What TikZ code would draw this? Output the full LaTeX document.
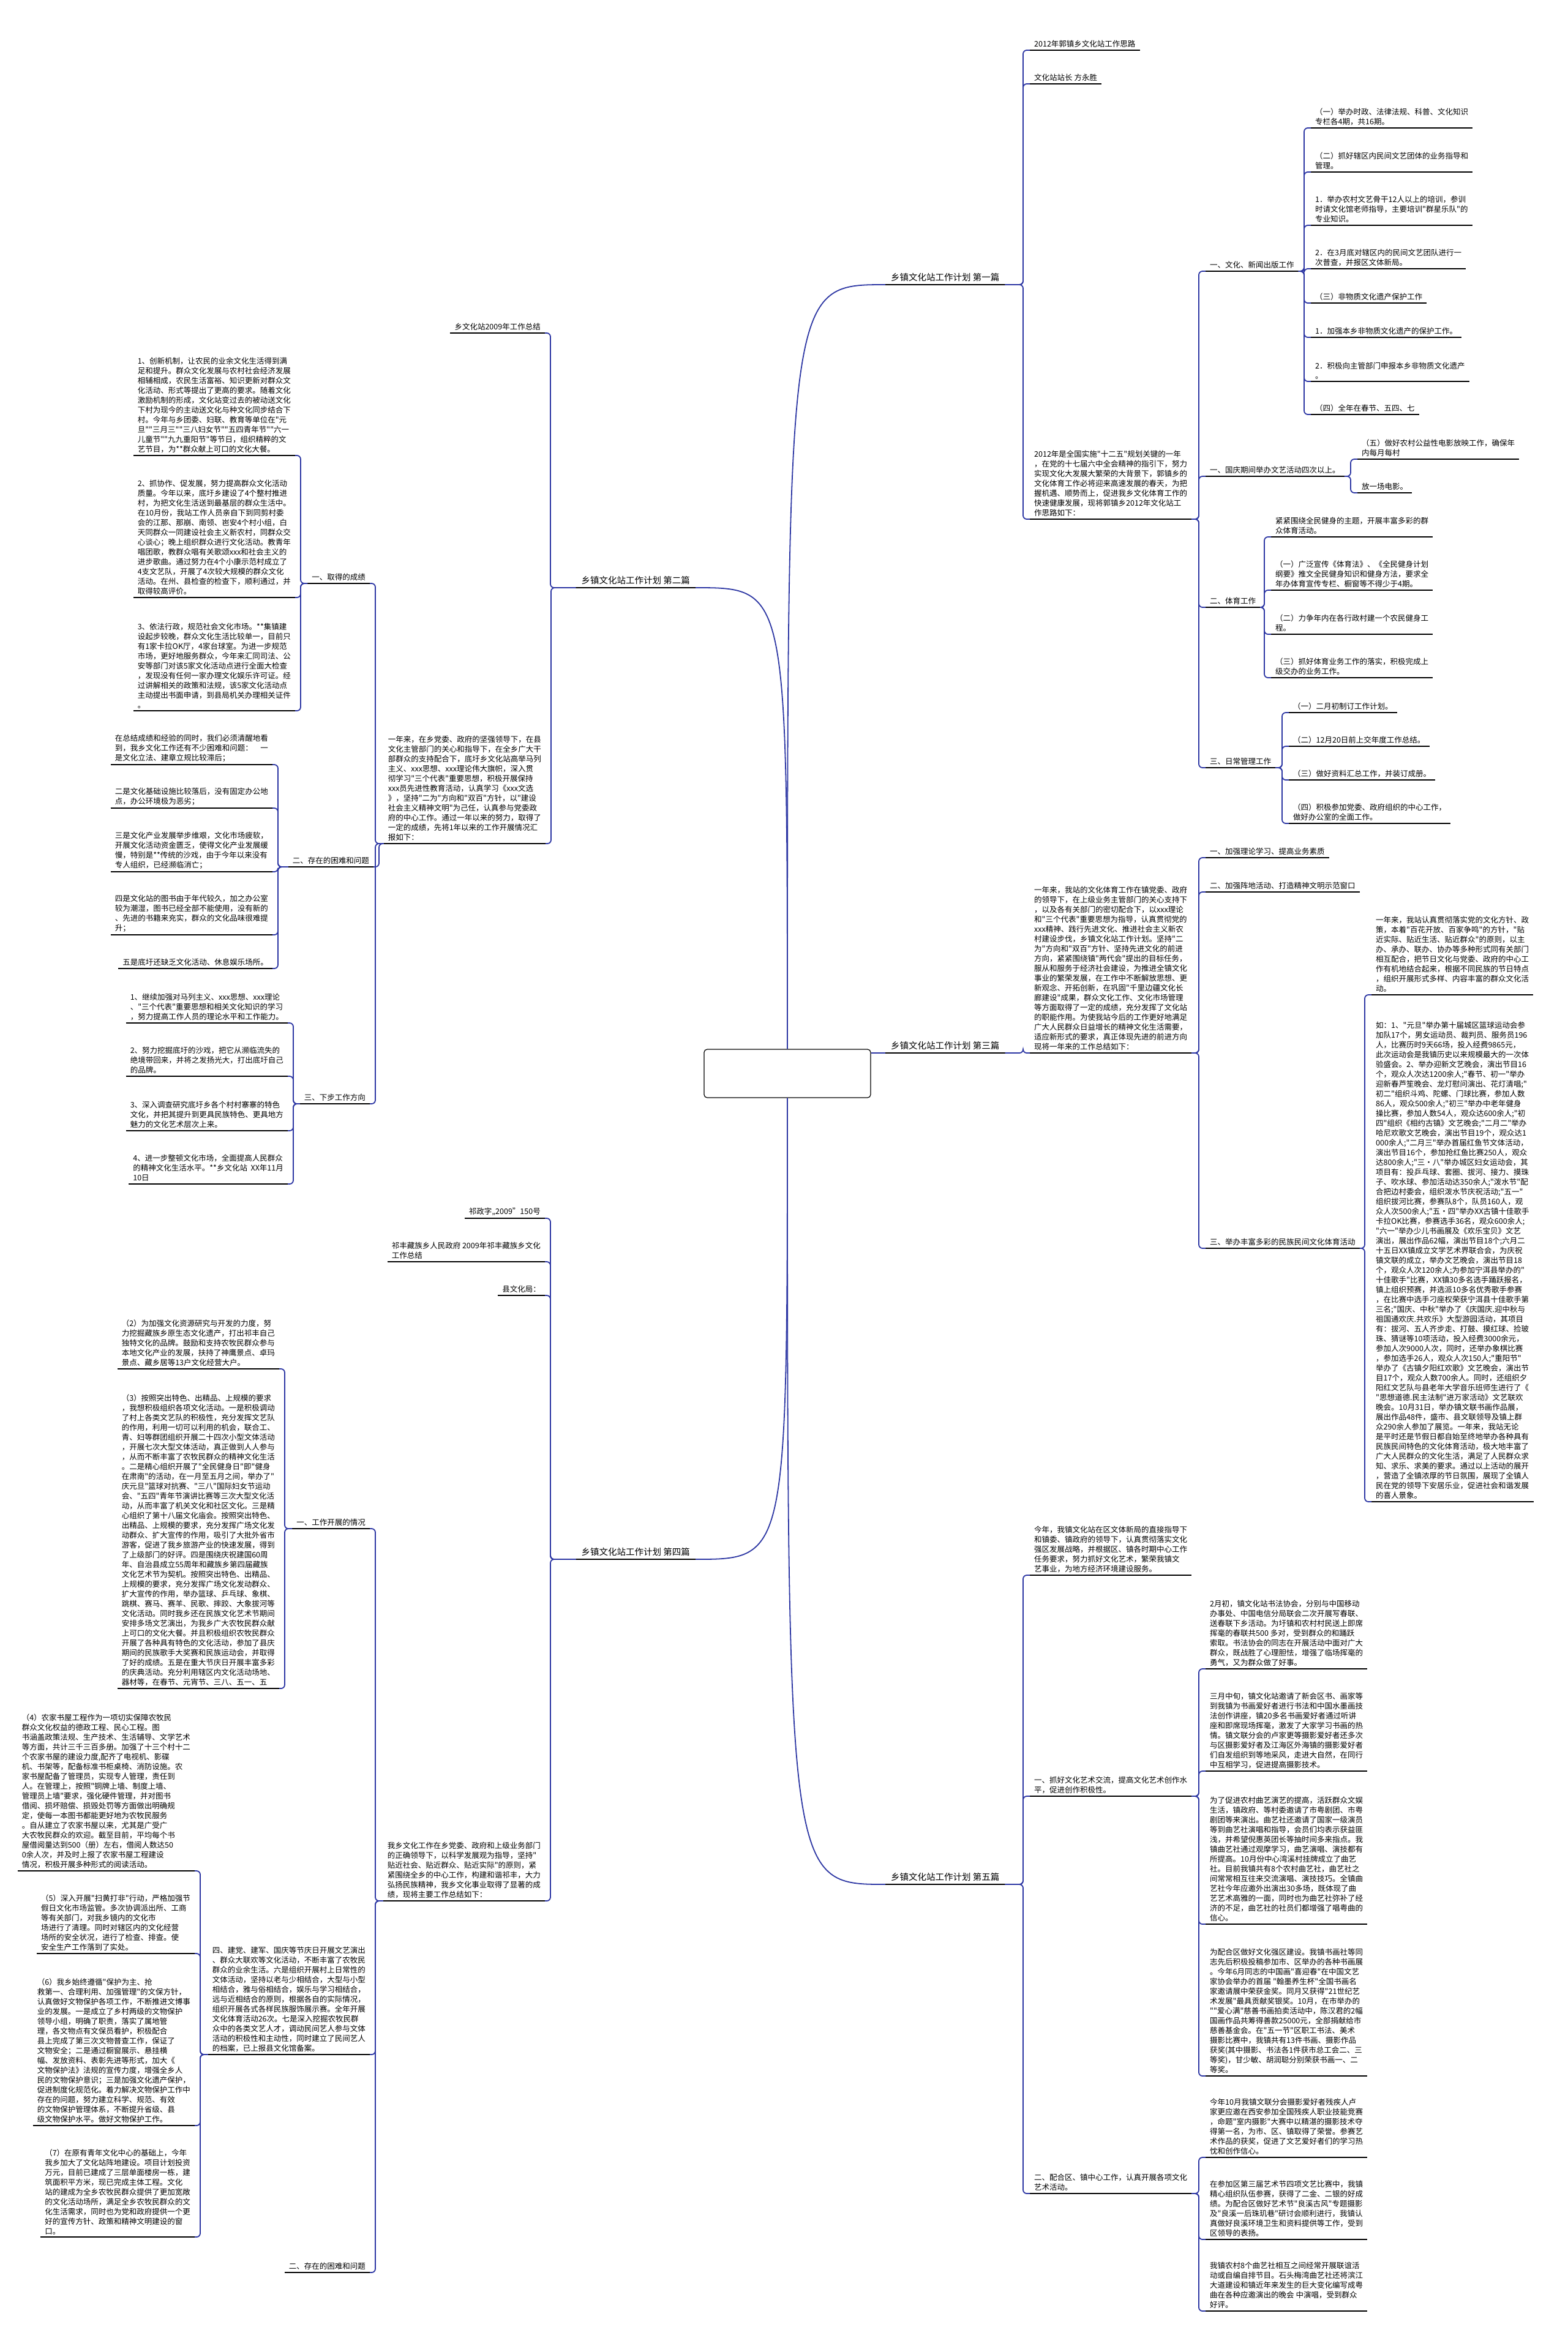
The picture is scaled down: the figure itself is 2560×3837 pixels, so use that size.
\documentclass[tikz,border=0pt]{standalone}
\usepackage{fontspec}
\newfontfamily\cjk{Noto Sans CJK SC}
\definecolor{linkblue}{RGB}{44,54,163}

\begin{document}
\begin{tikzpicture}[x=1pt, y=-1pt,
        topic/.style={font=\cjk\fontsize{12.5}{16}\selectfont, align=left, inner xsep=7pt, inner ysep=4pt,
            append after command={(\tikzlastnode.south west) edge[uline] (\tikzlastnode.south east)}},
        rtopic/.style={topic, anchor=south west},
        ltopic/.style={topic, anchor=south east},
        title/.style={topic, font=\cjk\fontsize{14.5}{18}\selectfont, inner xsep=9pt, inner ysep=5pt},
        uline/.style={draw=black, line width=2.2pt},
        link/.style={draw=linkblue, line width=1.8pt, rounded corners=6pt},
        rootbox/.style={draw, rounded corners=5pt, line width=1.2pt, fill=white, minimum width=272pt, minimum height=79pt},
    ]
        \fill[white] (0,0) rectangle (2560,3837);
        \useasboundingbox (0,0) rectangle (2560,3837);

        % centre
        \node[rootbox] (root) at (1286,1753.5) {};

        % chapter titles
        \node[title, anchor=south west] (p1) at (1446,465) {乡镇文化站工作计划 第一篇};
        \node[title, anchor=south east] (p2) at (1136,960) {乡镇文化站工作计划 第二篇};
        \node[title, anchor=south west] (p3) at (1446,1720) {乡镇文化站工作计划 第三篇};
        \node[title, anchor=south east] (p4) at (1136,2547) {乡镇文化站工作计划 第四篇};
        \node[title, anchor=south west] (p5) at (1446,3078) {乡镇文化站工作计划 第五篇};

        % first
        \node[rtopic] (a) at (1682,82) {2012年郭镇乡文化站工作思路};
        \node[rtopic] (b) at (1682,137) {文化站站长 方永胜};
        \node[rtopic] (c) at (1682,848) {2012年是全国实施"十二五"规划关键的一年\\，在党的十七届六中全会精神的指引下，努力\\实现文化大发展大繁荣的大背景下，郭镇乡的\\文化体育工作必将迎来高速发展的春天，为把\\握机遇、顺势而上，促进我乡文化体育工作的\\快速健康发展，现将郭镇乡2012年文化站工\\作思路如下：};
        \node[rtopic] (d) at (1969,443) {一、文化、新闻出版工作};
        \node[rtopic] (e) at (1969,778) {一、国庆期间举办文艺活动四次以上。};
        \node[rtopic] (f) at (1969,992) {二、体育工作};
        \node[rtopic] (g) at (1969,1254) {三、日常管理工作};
        \node[rtopic] (d1) at (2141,209) {（一）举办时政、法律法规、科普、文化知识\\专栏各4期，共16期。};
        \node[rtopic] (d2) at (2141,281) {（二）抓好辖区内民间文艺团体的业务指导和\\管理。};
        \node[rtopic] (d3) at (2141,368) {1．举办农村文艺骨干12人以上的培训，参训\\时请文化馆老师指导，主要培训"群星乐队"的\\专业知识。};
        \node[rtopic] (d4) at (2141,439) {2．在3月底对辖区内的民间文艺团队进行一\\次普查，并报区文体新局。};
        \node[rtopic] (d5) at (2141,495) {（三）非物质文化遗产保护工作};
        \node[rtopic] (d6) at (2141,551) {1．加强本乡非物质文化遗产的保护工作。};
        \node[rtopic] (d7) at (2141,623) {2．积极向主管部门申报本乡非物质文化遗产\\。};
        \node[rtopic] (d8) at (2141,677) {（四）全年在春节、五四、七};
        \node[rtopic] (e1) at (2217,750) {（五）做好农村公益性电影放映工作，确保年\\内每月每村};
        \node[rtopic] (e2) at (2217,805) {放一场电影。};
        \node[rtopic] (f1) at (2076,877) {紧紧围绕全民健身的主题，开展丰富多彩的群\\众体育活动。};
        \node[rtopic] (f2) at (2076,964) {（一）广泛宣传《体育法》、《全民健身计划\\纲要》推文全民健身知识和健身方法，要求全\\年办体育宣传专栏、橱窗等不得少于4期。};
        \node[rtopic] (f3) at (2076,1036) {（二）力争年内在各行政村建一个农民健身工\\程。};
        \node[rtopic] (f4) at (2076,1107) {（三）抓好体育业务工作的落实，积极完成上\\级交办的业务工作。};
        \node[rtopic] (g1) at (2105,1164) {（一）二月初制订工作计划。};
        \node[rtopic] (g2) at (2105,1219) {（二）12月20日前上交年度工作总结。};
        \node[rtopic] (g3) at (2105,1274) {（三）做好资料汇总工作，并装订成册。};
        \node[rtopic] (g4) at (2105,1345) {（四）积极参加党委、政府组织的中心工作，\\做好办公室的全面工作。};

        % third
        \node[rtopic] (t3) at (1682,1720) {一年来，我站的文化体育工作在镇党委、政府\\的领导下，在上级业务主管部门的关心支持下\\，以及各有关部门的密切配合下，以xxx理论\\和"三个代表"重要思想为指导，认真贯彻党的\\xxx精神、践行先进文化、推进社会主义新农\\村建设步伐，乡镇文化站工作计划。坚持"二\\为"方向和"双百"方针、坚持先进文化的前进\\方向，紧紧围绕镇"两代会"提出的目标任务，\\服从和服务于经济社会建设，为推进全镇文化\\事业的繁荣发展，在工作中不断解放思想、更\\新观念、开拓创新，在巩固"千里边疆文化长\\廊建设"成果，群众文化工作、文化市场管理\\等方面取得了一定的成绩，充分发挥了文化站\\的职能作用。为使我站今后的工作更好地满足\\广大人民群众日益增长的精神文化生活需要，\\适应新形式的要求，真正体现先进的前进方向\\现将一年来的工作总结如下：};
        \node[rtopic] (h1) at (1969,1401) {一、加强理论学习、提高业务素质};
        \node[rtopic] (h2) at (1969,1457) {二、加强阵地活动、打造精神文明示范窗口};
        \node[rtopic] (h3) at (1969,2039) {三、举办丰富多彩的民族民间文化体育活动};
        \node[rtopic] (h3a) at (2240,1625) {一年来，我站认真贯彻落实党的文化方针、政\\策，本着"百花开放、百家争鸣"的方针，"贴\\近实际、贴近生活、贴近群众"的原则，以主\\办、承办、联办、协办等多种形式同有关部门\\相互配合，把节日文化与党委、政府的中心工\\作有机地结合起来，根据不同民族的节日特点\\，组织开展形式多样、内容丰富的群众文化活\\动。};
        \node[rtopic] (h3b) at (2240,2453) {如：1、"元旦"举办第十届城区篮球运动会参\\加队17个，男女运动员、裁判员、服务员196\\人，比赛历时9天66场，投入经费9865元，\\此次运动会是我镇历史以来规模最大的一次体\\验盛会。2、举办迎新文艺晚会，演出节目16\\个，观众人次达1200余人;"春节、初一"举办\\迎新春芦笙晚会、龙灯慰问演出、花灯清唱;"\\初二"组织斗鸡、陀螺、门球比赛，参加人数\\86人，观众500余人;"初三"举办中老年健身\\操比赛，参加人数54人，观众达600余人;"初\\四"组织《相约古镇》文艺晚会;"二月二"举办\\哈尼欢歌文艺晚会，演出节目19个，观众达1\\000余人;"二月三"举办首届红鱼节文体活动，\\演出节目16个，参加抢红鱼比赛250人，观众\\达800余人;"三·八"举办城区妇女运动会，其\\项目有：投乒乓球、套圈、拔河、接力、摸珠\\子、吹水球、参加活动达350余人;"泼水节"配\\合把边村委会，组织泼水节庆祝活动;"五一"\\组织拔河比赛，参赛队8个，队员160人，观\\众人次500余人;"五·四"举办XX古镇十佳歌手\\卡拉OK比赛，参赛选手36名，观众600余人;\\"六一"举办少儿书画展及《欢乐宝贝》文艺\\演出，展出作品62幅，演出节目18个;六月二\\十五日XX镇成立文学艺术界联合会，为庆祝\\镇文联的成立，举办文艺晚会，演出节目18\\个，观众人次120余人;为参加宁洱县举办的"\\十佳歌手"比赛，XX镇30多名选手踊跃报名，\\镇上组织预赛，并选派10多名优秀歌手参赛\\，在比赛中选手刁座权荣获宁洱县十佳歌手第\\三名;"国庆、中秋"举办了《庆国庆.迎中秋与\\祖国通欢庆.共欢乐》大型游园活动，其项目\\有：拔河、五人齐步走、打鼓、摸红球、捡玻\\珠、猜谜等10项活动，投入经费3000余元，\\参加人次9000人次，同时，还举办象棋比赛\\，参加选手26人，观众人次150人;"重阳节"\\举办了《古镇夕阳红欢歌》文艺晚会，演出节\\目17个，观众人数700余人。同时，还组织夕\\阳红文艺队与县老年大学音乐班师生进行了《\\"思想道德.民主法制"进万家活动》文艺联欢\\晚会。10月31日，举办镇文联书画作品展，\\展出作品48件，盛市、县文联领导及镇上群\\众290余人参加了展览。一年来，我站无论\\是平时还是节假日都自始至终地举办各种具有\\民族民间特色的文化体育活动，极大地丰富了\\广大人民群众的文化生活，满足了人民群众求\\知、求乐、求美的要求。通过以上活动的展开\\，营造了全镇浓厚的节日氛围，展现了全镇人\\民在党的领导下安居乐业，促进社会和谐发展\\的喜人景象。};

        % fifth
        \node[rtopic] (i1) at (1682,2573) {今年，我镇文化站在区文体新局的直接指导下\\和镇委、镇政府的领导下，认真贯彻落实文化\\强区发展战略，并根据区、镇各时期中心工作\\任务要求，努力抓好文化艺术，繁荣我镇文\\艺事业，为地方经济环境建设服务。};
        \node[rtopic] (i2) at (1682,2934) {一、抓好文化艺术交流，提高文化艺术创作水\\平，促进创作积极性。};
        \node[rtopic] (i3) at (1682,3583) {二、配合区、镇中心工作，认真开展各项文化\\艺术活动。};
        \node[rtopic] (i2a) at (1969,2726) {2月初，镇文化站书法协会，分别与中国移动\\办事处、中国电信分局联会二次开展写春联、\\送春联下乡活动。为圩镇和农村村民送上即席\\挥毫的春联共500 多对，受到群众的和踊跃\\索取。书法协会的同志在开展活动中面对广大\\群众，既战胜了心理胆怯，增强了临场挥毫的\\勇气，又为群众做了好事。};
        \node[rtopic] (i2b) at (1969,2893) {三月中旬，镇文化站邀请了新会区书、画家等\\到我镇为书画爱好者进行书法和中国水墨画技\\法创作讲座，镇20多名书画爱好者通过听讲\\座和即席现场挥毫，激发了大家学习书画的热\\情。镇文联分会的卢家更等摄影爱好者还多次\\与区摄影爱好者及江海区外海镇的摄影爱好者\\们自发组织到等地采风，走进大自然，在同行\\中互相学习，促进提高摄影技术。};
        \node[rtopic] (i2c) at (1969,3143) {为了促进农村曲艺演艺的提高，活跃群众文娱\\生活，镇政府、等村委邀请了市粤剧团、市粤\\剧团等来演出。曲艺社还邀请了国家一级演员\\等到曲艺社演唱和指导，会员们均表示获益匪\\浅，并希望倪惠英团长等抽时间多来指点。我\\镇曲艺社通过观摩学习，曲艺演唱、演技都有\\所提高。10月份中心湾溪村挂牌成立了曲艺\\社。目前我镇共有8个农村曲艺社，曲艺社之\\间常常相互往来交流演唱、演技技巧。全镇曲\\艺社今年应邀外出演出30多场，既体现了曲\\艺艺术高雅的一面，同时也为曲艺社弥补了经\\济的不足，曲艺社的社员们都增强了唱粤曲的\\信心。};
        \node[rtopic] (i2d) at (1969,3391) {为配合区做好文化强区建设。我镇书画社等同\\志先后积极投稿参加市、区举办的各种书画展\\。今年6月同志的中国画"喜迎春"在中国文艺\\家协会举办的首届 "翰墨养生杯"全国书画名\\家邀请展中荣获金奖。同月又获得"21世纪艺\\术发展"最具贡献奖银奖。10月，在市举办的\\""爱心满"慈善书画拍卖活动中，陈汉君的2幅\\国画作品共筹得善款25000元，全部捐献给市\\慈善基金会。在"五一节"区职工书法、美术\\摄影比赛中，我镇共有13件书画、摄影作品\\获奖(其中摄影、书法各1件获市总工会二、三\\等奖)，甘少敏、胡润聪分别荣获书画一、二\\等奖。};
        \node[rtopic] (i3a) at (1969,3524) {今年10月我镇文联分会摄影爱好者残疾人卢\\家更应邀在西安参加全国残疾人职业技能竞赛\\，命题"室内摄影"大赛中以精湛的摄影技术夺\\得第一名，为市、区、镇取得了荣誉。参赛艺\\术作品的获奖，促进了文艺爱好者们的学习热\\忱和创作信心。};
        \node[rtopic] (i3b) at (1969,3658) {在参加区第三届艺术节四项文艺比赛中，我镇\\精心组织队伍参赛，获得了二金、二银的好成\\绩。为配合区做好艺术节"良溪古风"专题摄影\\及"良溪一后珠玑巷"研讨会顺利进行，我镇认\\真做好良溪环境卫生和资料提供等工作，受到\\区领导的表扬。};
        \node[rtopic] (i3c) at (1969,3775) {我镇农村8个曲艺社相互之间经常开展联谊活\\动或自编自排节目。石头梅湾曲艺社还将滨江\\大道建设和镇近年来发生的巨大变化编写成粤\\曲在各种应邀演出的晚会 中演唱，受到群众\\好评。};

        % second
        \node[ltopic] (j1) at (890,544) {乡文化站2009年工作总结};
        \node[ltopic] (j2) at (891,1378) {一年来，在乡党委、政府的坚强领导下，在县\\文化主管部门的关心和指导下，在全乡广大干\\部群众的支持配合下，底圩乡文化站高举马列\\主义、xxx思想、xxx理论伟大旗帜，深入贯\\彻学习"三个代表"重要思想，积极开展保持\\xxx员先进性教育活动，认真学习《xxx文选\\》，坚持"二为"方向和"双百"方针，以"建设\\社会主义精神文明"为己任，认真参与党委政\\府的中心工作。通过一年以来的努力，取得了\\一定的成绩，先将1年以来的工作开展情况汇\\报如下：};
        \node[ltopic] (k1) at (604,953) {一、取得的成绩};
        \node[ltopic] (k2) at (610,1416) {二、存在的困难和问题};
        \node[ltopic] (k3) at (604,1803) {三、下步工作方向};
        \node[ltopic] (k1a) at (482,744) {1、创新机制，让农民的业余文化生活得到满\\足和提升。群众文化发展与农村社会经济发展\\相辅相成，农民生活富裕、知识更新对群众文\\化活动、形式等提出了更高的要求。随着文化\\激励机制的形成，文化站变过去的被动送文化\\下村为现今的主动送文化与种文化同步结合下\\村。今年与乡团委、妇联、教育等单位在"元\\旦""三月三""三八妇女节""五四青年节""六一\\儿童节""九九重阳节"等节日，组织精粹的文\\艺节目，为**群众献上可口的文化大餐。};
        \node[ltopic] (k1b) at (482,976) {2、抓协作、促发展，努力提高群众文化活动\\质量。今年以来，底圩乡建设了4个整村推进\\村，为把文化生活送到最基层的群众生活中。\\在10月份，我站工作人员亲自下到同剪村委\\会的江那、那崩、南领、岜安4个村小组，白\\天同群众一同建设社会主义新农村，同群众交\\心谈心；晚上组织群众进行文化活动。教青年\\唱团歌，教群众唱有关歌颂xxx和社会主义的\\进步歌曲。通过努力在4个小康示范村成立了\\4支文艺队，开展了4次较大规模的群众文化\\活动。在州、县检查的检查下，顺利通过，并\\取得较高评价。};
        \node[ltopic] (k1c) at (482,1161) {3、依法行政，规范社会文化市场。**集镇建\\设起步较晚，群众文化生活比较单一，目前只\\有1家卡拉OK厅，4家台球室。为进一步规范\\市场，更好地服务群众，今年来汇同司法、公\\安等部门对该5家文化活动点进行全面大检查\\，发现没有任何一家办理文化娱乐许可证。经\\过讲解相关的政策和法规，该5家文化活动点\\主动提出书面申请，到县局机关办理相关证件\\。};
        \node[ltopic] (k2a) at (445,1249) {在总结成绩和经验的同时，我们必须清醒地看\\到，我乡文化工作还有不少困难和问题：\quad 一\\是文化立法、建章立规比较滞后；};
        \node[ltopic] (k2b) at (445,1320) {二是文化基础设施比较落后，没有固定办公地\\点，办公环境极为恶劣；};
        \node[ltopic] (k2c) at (445,1424) {三是文化产业发展举步维艰，文化市场疲软，\\开展文化活动资金匮乏，使得文化产业发展缓\\慢，特别是**传统的沙戏，由于今年以来没有\\专人组织，已经濒临消亡；};
        \node[ltopic] (k2d) at (445,1527) {四是文化站的图书由于年代较久，加之办公室\\较为潮湿，图书已经全部不能使用，没有新的\\、先进的书籍来充实，群众的文化品味很难提\\升；};
        \node[ltopic] (k2e) at (445,1582) {五是底圩还缺乏文化活动、休息娱乐场所。};
        \node[ltopic] (k3a) at (470,1671) {1、继续加强对马列主义、xxx思想、xxx理论\\、"三个代表"重要思想和相关文化知识的学习\\，努力提高工作人员的理论水平和工作能力。};
        \node[ltopic] (k3b) at (470,1758) {2、努力挖掘底圩的沙戏，把它从濒临流失的\\绝境带回来，并将之发扬光大，打出底圩自己\\的品牌。};
        \node[ltopic] (k3c) at (470,1847) {3、深入调查研究底圩乡各个村村寨寨的特色\\文化，并把其提升到更具民族特色、更具地方\\魅力的文化艺术层次上来。};
        \node[ltopic] (k3d) at (470,1934) {4、进一步整顿文化市场，全面提高人民群众\\的精神文化生活水平。**乡文化站\ \ XX年11月\\10日};

        % fourth
        \node[ltopic] (l1) at (890,1990) {祁政字„2009”150号};
        \node[ltopic] (l2) at (890,2061) {祁丰藏族乡人民政府 2009年祁丰藏族乡文化\\工作总结};
        \node[ltopic] (l3) at (890,2116) {县文化局：};
        \node[ltopic] (l5) at (890,3105) {我乡文化工作在乡党委、政府和上级业务部门\\的正确领导下，以科学发展观为指导，坚持"\\贴近社会、贴近群众、贴近实际"的原则，紧\\紧围绕全乡的中心工作，构建和谐祁丰，大力\\弘扬民族精神，我乡文化事业取得了显著的成\\绩，现将主要工作总结如下：};
        \node[ltopic] (l4) at (604,2497) {一、工作开展的情况};
        \node[ltopic] (l6) at (604,3712) {二、存在的困难和问题};
        \node[ltopic] (l4a) at (456,2236) {（2）为加强文化资源研究与开发的力度，努\\力挖掘藏族乡原生态文化遗产，打出祁丰自己\\独特文化的品牌。鼓励和支持农牧民群众参与\\本地文化产业的发展，扶持了神鹰景点、卓玛\\景点、藏乡居等13户文化经营大户。};
        \node[ltopic] (l4b) at (456,2758) {（3）按照突出特色、出精品、上规模的要求\\，我想积极组织各项文化活动。一是积极调动\\了村上各类文艺队的积极性，充分发挥文艺队\\的作用，利用一切可以利用的机会，联合工、\\青、妇等群团组织开展二十四次小型文体活动\\，开展七次大型文体活动，真正做到人人参与\\，从而不断丰富了农牧民群众的精神文化生活\\。二是精心组织开展了"全民健身日"即"健身\\在肃南"的活动，在一月至五月之间，举办了"\\庆元旦"篮球对抗赛、"三八"国际妇女节运动\\会、"五四"青年节演讲比赛等三次大型文化活\\动，从而丰富了机关文化和社区文化。三是精\\心组织了第十八届文化庙会。按照突出特色、\\出精品、上规模的要求，充分发挥广场文化发\\动群众、扩大宣传的作用，吸引了大批外省市\\游客，促进了我乡旅游产业的快速发展，得到\\了上级部门的好评。四是围绕庆祝建国60周\\年、自治县成立55周年和藏族乡第四届藏族\\文化艺术节为契机。按照突出特色、出精品、\\上规模的要求，充分发挥广场文化发动群众、\\扩大宣传的作用，举办篮球、乒乓球、象棋、\\跳棋、赛马、赛羊、民歌、摔跤、大象拔河等\\文化活动。同时我乡还在民族文化艺术节期间\\安排多场文艺演出，为我乡广大农牧民群众献\\上可口的文化大餐。并且积极组织农牧民群众\\开展了各种具有特色的文化活动，参加了县庆\\期间的民族歌手大奖赛和民族运动会，并取得\\了好的成绩。五是在重大节庆日开展丰富多彩\\的庆典活动。充分利用辖区内文化活动场地、\\器材等，在春节、元宵节、三八、五一、五};
        \node[ltopic] (l4c) at (604,3356) {四、建党、建军、国庆等节庆日开展文艺演出\\、群众大联欢等文化活动，不断丰富了农牧民\\群众的业余生活。六是组织开展村上日常性的\\文体活动，坚持以老与少相结合，大型与小型\\相结合，雅与俗相结合，娱乐与学习相结合，\\远与近相结合的原则，根据各自的实际情况，\\组织开展各式各样民族服饰展示赛。全年开展\\文化体育活动26次。七是深入挖掘农牧民群\\众中的各类文艺人才，调动民间艺人参与文体\\活动的积极性和主动性，同时建立了民间艺人\\的档案，已上报县文化馆备案。};
        \node[ltopic] (m4) at (318,3056) {（4）农家书屋工程作为一项切实保障农牧民\\群众文化权益的德政工程、民心工程。图\\书涵盖政策法规、生产技术、生活辅导、文学艺术\\等方面，共计三千三百多册。加强了十三个村十二\\个农家书屋的建设力度,配齐了电视机、影碟\\机、书架等，配备标准书柜桌椅、消防设施。农\\家书屋配备了管理员，实现专人管理，责任到\\人。在管理上，按照"铜牌上墙、制度上墙、\\管理员上墙"要求，强化硬件管理，并对图书\\借阅、损坏赔偿、损毁处罚等方面做出明确规\\定，使每一本图书都能更好地为农牧民服务\\。自从建立了农家书屋以来，尤其是广受广\\大农牧民群众的欢迎。截至目前，平均每个书\\屋借阅量达到500（册）左右，借阅人数达50\\0余人次，并及时上报了农家书屋工程建设\\情况，积极开展多种形式的阅读活动。};
        \node[ltopic] (m5) at (318,3191) {（5）深入开展"扫黄打非"行动，严格加强节\\假日文化市场监管。多次协调派出所、工商\\等有关部门，对我乡镜内的文化市\\场进行了清理。同时对辖区内的文化经营\\场所的安全状况，进行了检查、排查。使\\安全生产工作落到了实处。};
        \node[ltopic] (m6) at (318,3472) {（6）我乡始终遵循"保护为主、抢\\救第一、合理利用、加强管理"的文保方针，\\认真做好文物保护各项工作，不断推进文博事\\业的发展。一是成立了乡村两级的文物保护\\领导小组，明确了职责，落实了属地管\\理，各文物点有文保员看护，积极配合\\县上完成了第三次文物普查工作，保证了\\文物安全；二是通过橱窗展示、悬挂横\\幅、发放资料、表彰先进等形式，加大《\\文物保护法》法规的宣传力度，增强全乡人\\民的文物保护意识；三是加强文化遗产保护，\\促进制度化规范化。着力解决文物保护工作中\\存在的问题，努力建立科学、规范、有效\\的文物保护管理体系，不断提升省级、县\\级文物保护水平。做好文物保护工作。};
        \node[ltopic] (m7) at (318,3654) {（7）在原有青年文化中心的基础上，今年\\我乡加大了文化站阵地建设。项目计划投资\\万元，目前已建成了三层单面楼房一栋，建\\筑面积平方米，现已完成主体工程。文化\\站的建成为全乡农牧民群众提供了更加宽敞\\的文化活动场所，满足全乡农牧民群众的文\\化生活需求，同时也为党和政府提供一个更\\好的宣传方针、政策和精神文明建设的窗\\口。};

        % connectors from the centre
        \draw[link] (root.north) .. controls (root.north |- p1.south west) .. (p1.south west);
        \draw[link] (root.north) .. controls (root.north |- p2.south east) .. (p2.south east);
        \draw[link] (root.east |- p3.south west) -- (p3.south west);
        \draw[link] (root.south) .. controls (root.south |- p4.south east) .. (p4.south east);
        \draw[link] (root.south) .. controls (root.south |- p5.south west) .. (p5.south west);

        % right side branches
        \foreach \p/\c in {p1/a, p1/b, p1/c, c/d, c/e, c/f, c/g,
                d/d1, d/d2, d/d3, d/d4, d/d5, d/d6, d/d7, d/d8, e/e1, e/e2,
                f/f1, f/f2, f/f3, f/f4, g/g1, g/g2, g/g3, g/g4,
                p3/t3, t3/h1, t3/h2, t3/h3, h3/h3a, h3/h3b,
                p5/i1, p5/i2, p5/i3, i2/i2a, i2/i2b, i2/i2c, i2/i2d, i3/i3a, i3/i3b, i3/i3c}
            \draw[link] (\p.south east) -| ([xshift=-11pt]\c.south west) -- (\c.south west);

        % left side branches
        \foreach \p/\c in {p2/j1, p2/j2, j2/k1, j2/k2, j2/k3,
                k1/k1a, k1/k1b, k1/k1c, k2/k2a, k2/k2b, k2/k2c, k2/k2d, k2/k2e,
                k3/k3a, k3/k3b, k3/k3c, k3/k3d,
                p4/l1, p4/l2, p4/l3, p4/l5, l5/l4, l5/l4c, l5/l6,
                l4/l4a, l4/l4b, l4c/m4, l4c/m5, l4c/m6, l4c/m7}
            \draw[link] (\p.south west) -| ([xshift=9pt]\c.south east) -- (\c.south east);
    \end{tikzpicture}
\end{document}
